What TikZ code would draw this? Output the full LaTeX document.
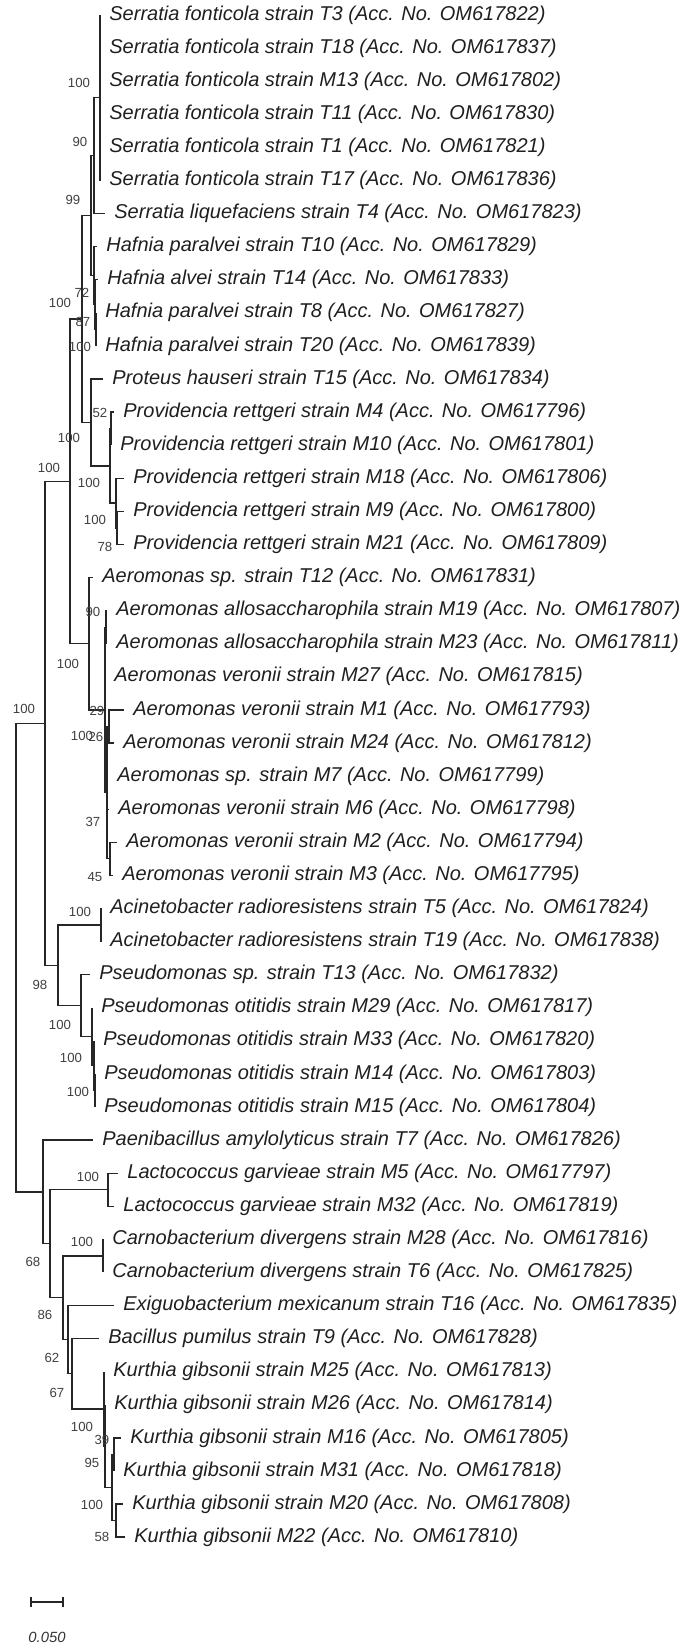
\documentclass[tikz,border=0pt]{standalone}
\usepackage{fontspec}
\setmainfont{Liberation Sans}
\usepackage{tikz}

\tikzset{
  branch/.style={line width=0.65pt, black!85},
  taxon/.style={anchor=west, inner sep=0pt, xshift=4.5pt, text=black!88,
    font=\itshape\fontsize{10}{12}\selectfont},
  boot/.style={inner sep=0pt, text=black!75, font=\fontsize{6.6}{8}\selectfont},
  scaletxt/.style={inner sep=0pt, text=black!80, font=\itshape\fontsize{7.4}{9}\selectfont},
}

\begin{document}
\begin{tikzpicture}[x=0.5pt, y=-0.5pt]
  \useasboundingbox (0,0) rectangle (690,1645);
  % tips
  \coordinate (T3) at (100,15.0);
  \coordinate (T18) at (100,48.1);
  \coordinate (M13) at (100,81.2);
  \coordinate (T11) at (100,114.3);
  \coordinate (T1) at (100,147.4);
  \coordinate (T17) at (100,180.5);
  \coordinate (T4) at (105,213.5);
  \coordinate (T10) at (97,246.6);
  \coordinate (T14) at (98,279.7);
  \coordinate (T8) at (96,312.8);
  \coordinate (T20) at (96,345.9);
  \coordinate (T15) at (103,379.0);
  \coordinate (M4) at (114,412.1);
  \coordinate (M10) at (111,445.2);
  \coordinate (M18) at (124,478.3);
  \coordinate (M9) at (124,511.4);
  \coordinate (M21) at (124,544.4);
  \coordinate (T12) at (93,577.5);
  \coordinate (M19) at (107,610.6);
  \coordinate (M23) at (107,643.7);
  \coordinate (M27) at (105,676.8);
  \coordinate (M1) at (124,709.9);
  \coordinate (M24) at (114,743.0);
  \coordinate (M7) at (108,776.1);
  \coordinate (M6) at (109,809.2);
  \coordinate (M2) at (117,842.3);
  \coordinate (M3) at (113,875.3);
  \coordinate (T5) at (101,908.4);
  \coordinate (T19) at (101,941.5);
  \coordinate (T13) at (90,974.6);
  \coordinate (M29) at (92,1007.7);
  \coordinate (M33) at (94,1040.8);
  \coordinate (M14) at (95,1073.9);
  \coordinate (M15) at (95,1107.0);
  \coordinate (T7) at (93,1140.1);
  \coordinate (M5) at (118,1173.2);
  \coordinate (M32) at (114,1206.2);
  \coordinate (M28) at (103,1239.3);
  \coordinate (T6) at (103,1272.4);
  \coordinate (T16) at (114,1305.5);
  \coordinate (T9) at (99,1338.6);
  \coordinate (M25) at (104,1371.7);
  \coordinate (M26) at (105,1404.8);
  \coordinate (M16) at (121,1437.9);
  \coordinate (M31) at (114,1471.0);
  \coordinate (M20) at (123,1504.1);
  \coordinate (M22) at (125,1537.1);

  % taxon names
  \node[taxon] (T3txt) at (T3) {Serratia fonticola strain T3 (Acc. No. OM617822)};
  \node[taxon] (T18txt) at (T18) {Serratia fonticola strain T18 (Acc. No. OM617837)};
  \node[taxon] (M13txt) at (M13) {Serratia fonticola strain M13 (Acc. No. OM617802)};
  \node[taxon] (T11txt) at (T11) {Serratia fonticola strain T11 (Acc. No. OM617830)};
  \node[taxon] (T1txt) at (T1) {Serratia fonticola strain T1 (Acc. No. OM617821)};
  \node[taxon] (T17txt) at (T17) {Serratia fonticola strain T17 (Acc. No. OM617836)};
  \node[taxon] (T4txt) at (T4) {Serratia liquefaciens strain T4 (Acc. No. OM617823)};
  \node[taxon] (T10txt) at (T10) {Hafnia paralvei strain T10 (Acc. No. OM617829)};
  \node[taxon] (T14txt) at (T14) {Hafnia alvei strain T14 (Acc. No. OM617833)};
  \node[taxon] (T8txt) at (T8) {Hafnia paralvei strain T8 (Acc. No. OM617827)};
  \node[taxon] (T20txt) at (T20) {Hafnia paralvei strain T20 (Acc. No. OM617839)};
  \node[taxon] (T15txt) at (T15) {Proteus hauseri strain T15 (Acc. No. OM617834)};
  \node[taxon] (M4txt) at (M4) {Providencia rettgeri strain M4 (Acc. No. OM617796)};
  \node[taxon] (M10txt) at (M10) {Providencia rettgeri strain M10 (Acc. No. OM617801)};
  \node[taxon] (M18txt) at (M18) {Providencia rettgeri strain M18 (Acc. No. OM617806)};
  \node[taxon] (M9txt) at (M9) {Providencia rettgeri strain M9 (Acc. No. OM617800)};
  \node[taxon] (M21txt) at (M21) {Providencia rettgeri strain M21 (Acc. No. OM617809)};
  \node[taxon] (T12txt) at (T12) {Aeromonas sp. strain T12 (Acc. No. OM617831)};
  \node[taxon] (M19txt) at (M19) {Aeromonas allosaccharophila strain M19 (Acc. No. OM617807)};
  \node[taxon] (M23txt) at (M23) {Aeromonas allosaccharophila strain M23 (Acc. No. OM617811)};
  \node[taxon] (M27txt) at (M27) {Aeromonas veronii strain M27 (Acc. No. OM617815)};
  \node[taxon] (M1txt) at (M1) {Aeromonas veronii strain M1 (Acc. No. OM617793)};
  \node[taxon] (M24txt) at (M24) {Aeromonas veronii strain M24 (Acc. No. OM617812)};
  \node[taxon] (M7txt) at (M7) {Aeromonas sp. strain M7 (Acc. No. OM617799)};
  \node[taxon] (M6txt) at (M6) {Aeromonas veronii strain M6 (Acc. No. OM617798)};
  \node[taxon] (M2txt) at (M2) {Aeromonas veronii strain M2 (Acc. No. OM617794)};
  \node[taxon] (M3txt) at (M3) {Aeromonas veronii strain M3 (Acc. No. OM617795)};
  \node[taxon] (T5txt) at (T5) {Acinetobacter radioresistens strain T5 (Acc. No. OM617824)};
  \node[taxon] (T19txt) at (T19) {Acinetobacter radioresistens strain T19 (Acc. No. OM617838)};
  \node[taxon] (T13txt) at (T13) {Pseudomonas sp. strain T13 (Acc. No. OM617832)};
  \node[taxon] (M29txt) at (M29) {Pseudomonas otitidis strain M29 (Acc. No. OM617817)};
  \node[taxon] (M33txt) at (M33) {Pseudomonas otitidis strain M33 (Acc. No. OM617820)};
  \node[taxon] (M14txt) at (M14) {Pseudomonas otitidis strain M14 (Acc. No. OM617803)};
  \node[taxon] (M15txt) at (M15) {Pseudomonas otitidis strain M15 (Acc. No. OM617804)};
  \node[taxon] (T7txt) at (T7) {Paenibacillus amylolyticus strain T7 (Acc. No. OM617826)};
  \node[taxon] (M5txt) at (M5) {Lactococcus garvieae strain M5 (Acc. No. OM617797)};
  \node[taxon] (M32txt) at (M32) {Lactococcus garvieae strain M32 (Acc. No. OM617819)};
  \node[taxon] (M28txt) at (M28) {Carnobacterium divergens strain M28 (Acc. No. OM617816)};
  \node[taxon] (T6txt) at (T6) {Carnobacterium divergens strain T6 (Acc. No. OM617825)};
  \node[taxon] (T16txt) at (T16) {Exiguobacterium mexicanum strain T16 (Acc. No. OM617835)};
  \node[taxon] (T9txt) at (T9) {Bacillus pumilus strain T9 (Acc. No. OM617828)};
  \node[taxon] (M25txt) at (M25) {Kurthia gibsonii strain M25 (Acc. No. OM617813)};
  \node[taxon] (M26txt) at (M26) {Kurthia gibsonii strain M26 (Acc. No. OM617814)};
  \node[taxon] (M16txt) at (M16) {Kurthia gibsonii strain M16 (Acc. No. OM617805)};
  \node[taxon] (M31txt) at (M31) {Kurthia gibsonii strain M31 (Acc. No. OM617818)};
  \node[taxon] (M20txt) at (M20) {Kurthia gibsonii strain M20 (Acc. No. OM617808)};
  \node[taxon] (M22txt) at (M22) {Kurthia gibsonii M22 (Acc. No. OM617810)};

  % internal nodes
  \coordinate (root) at (16,957.7);
  \coordinate (gneg) at (45,723.4);
  \coordinate (entaer) at (70,481.4);
  \coordinate (entero) at (82,319.0);
  \coordinate (serhaf) at (91,215.6);
  \coordinate (serr) at (94,155.6);
  \coordinate (sfont) at (100,97.8);
  \coordinate (hafA) at (94,275.6);
  \coordinate (hafB) at (95,304.5);
  \coordinate (hafC) at (96,329.4);
  \coordinate (morg) at (91,422.5);
  \coordinate (prov) at (110,465.9);
  \coordinate (provA) at (111,428.7);
  \coordinate (provB) at (116,503.1);
  \coordinate (provC) at (117,527.9);
  \coordinate (aero) at (89,643.7);
  \coordinate (aeroA) at (105,709.9);
  \coordinate (aeroB) at (106,627.2);
  \coordinate (aeroC) at (107,792.6);
  \coordinate (aeroD) at (109,726.5);
  \coordinate (aeroE) at (110,858.8);
  \coordinate (acipse) at (58,965.3);
  \coordinate (acin) at (101,925.0);
  \coordinate (pse) at (81,1005.7);
  \coordinate (pseA) at (92,1036.7);
  \coordinate (pseB) at (94,1065.6);
  \coordinate (pseC) at (95,1090.5);
  \coordinate (firm) at (43,1192.0);
  \coordinate (firmA) at (50,1243.8);
  \coordinate (lact) at (108,1189.7);
  \coordinate (firmB) at (63,1297.8);
  \coordinate (carn) at (103,1255.9);
  \coordinate (firmC) at (68,1339.7);
  \coordinate (firmD) at (72,1373.8);
  \coordinate (kur) at (104,1409.0);
  \coordinate (kurA) at (105,1446.2);
  \coordinate (kurB) at (112,1487.6);
  \coordinate (kurC) at (114,1454.5);
  \coordinate (kurD) at (116,1520.6);

  % branches
  \draw[branch] (root) |- (gneg) (root) |- (firm);
  \draw[branch] (gneg) |- (entaer) (gneg) |- (acipse);
  \draw[branch] (entaer) |- (entero) (entaer) |- (aero);
  \draw[branch] (entero) |- (serhaf) (entero) |- (morg);
  \draw[branch] (serhaf) |- (serr) (serhaf) |- (hafA);
  \draw[branch] (serr) |- (sfont) (serr) |- (T4);
  \draw[branch] (sfont) |- (T3) (sfont) |- (T18) (sfont) |- (M13)
    (sfont) |- (T11) (sfont) |- (T1) (sfont) |- (T17);
  \draw[branch] (hafA) |- (T10) (hafA) |- (hafB);
  \draw[branch] (hafB) |- (T14) (hafB) |- (hafC);
  \draw[branch] (hafC) |- (T8) (hafC) |- (T20);
  \draw[branch] (morg) |- (T15) (morg) |- (prov);
  \draw[branch] (prov) |- (provA) (prov) |- (provB);
  \draw[branch] (provA) |- (M4) (provA) |- (M10);
  \draw[branch] (provB) |- (M18) (provB) |- (provC);
  \draw[branch] (provC) |- (M9) (provC) |- (M21);
  \draw[branch] (aero) |- (T12) (aero) |- (aeroA);
  \draw[branch] (aeroA) |- (aeroB) (aeroA) |- (M27) (aeroA) |- (aeroC);
  \draw[branch] (aeroB) |- (M19) (aeroB) |- (M23);
  \draw[branch] (aeroC) |- (aeroD) (aeroC) |- (M7) (aeroC) |- (M6) (aeroC) |- (aeroE);
  \draw[branch] (aeroD) |- (M1) (aeroD) |- (M24);
  \draw[branch] (aeroE) |- (M2) (aeroE) |- (M3);
  \draw[branch] (acipse) |- (acin) (acipse) |- (pse);
  \draw[branch] (acin) |- (T5) (acin) |- (T19);
  \draw[branch] (pse) |- (T13) (pse) |- (pseA);
  \draw[branch] (pseA) |- (M29) (pseA) |- (pseB);
  \draw[branch] (pseB) |- (M33) (pseB) |- (pseC);
  \draw[branch] (pseC) |- (M14) (pseC) |- (M15);
  \draw[branch] (firm) |- (T7) (firm) |- (firmA);
  \draw[branch] (firmA) |- (lact) (firmA) |- (firmB);
  \draw[branch] (lact) |- (M5) (lact) |- (M32);
  \draw[branch] (firmB) |- (carn) (firmB) |- (firmC);
  \draw[branch] (carn) |- (M28) (carn) |- (T6);
  \draw[branch] (firmC) |- (T16) (firmC) |- (firmD);
  \draw[branch] (firmD) |- (T9) (firmD) |- (kur);
  \draw[branch] (kur) |- (M25) (kur) |- (kurA);
  \draw[branch] (kurA) |- (M26) (kurA) |- (kurB);
  \draw[branch] (kurB) |- (kurC) (kurB) |- (kurD);
  \draw[branch] (kurC) |- (M16) (kurC) |- (M31);
  \draw[branch] (kurD) |- (M20) (kurD) |- (M22);

  % bootstrap values
  \node[boot] (bs01) at (79,83) {100};
  \node[boot] (bs02) at (80,142) {90};
  \node[boot] (bs03) at (73,200) {99};
  \node[boot] (bs04) at (82,293) {72};
  \node[boot] (bs05) at (60,303) {100};
  \node[boot] (bs06) at (83,322) {87};
  \node[boot] (bs07) at (80,347) {100};
  \node[boot] (bs08) at (100,413) {52};
  \node[boot] (bs09) at (69,438) {100};
  \node[boot] (bs10) at (49,468) {100};
  \node[boot] (bs11) at (89,483) {100};
  \node[boot] (bs12) at (95,520) {100};
  \node[boot] (bs13) at (105,547) {78};
  \node[boot] (bs14) at (93,612) {90};
  \node[boot] (bs15) at (68,664) {100};
  \node[boot] (bs16) at (24,709) {100};
  \node[boot] (bs17) at (97,711) {29};
  \node[boot] (bs18) at (82,736) {100};
  \node[boot] (bs19) at (96,737) {26};
  \node[boot] (bs20) at (93,822) {37};
  \node[boot] (bs21) at (95,877) {45};
  \node[boot] (bs22) at (80,912) {100};
  \node[boot] (bs23) at (40,985) {98};
  \node[boot] (bs24) at (60,1025) {100};
  \node[boot] (bs25) at (71,1058) {100};
  \node[boot] (bs26) at (78,1092) {100};
  \node[boot] (bs27) at (88,1177) {100};
  \node[boot] (bs28) at (82,1242) {100};
  \node[boot] (bs29) at (33,1262) {68};
  \node[boot] (bs30) at (45,1315) {86};
  \node[boot] (bs31) at (52,1358) {62};
  \node[boot] (bs32) at (57,1393) {67};
  \node[boot] (bs33) at (82,1427) {100};
  \node[boot] (bs34) at (102,1440) {39};
  \node[boot] (bs35) at (92,1463) {95};
  \node[boot] (bs36) at (92,1505) {100};
  \node[boot] (bs37) at (102,1537) {58};

  % scale bar
  \coordinate (sbL) at (31,1602);
  \coordinate (sbR) at (63,1602);
  \draw[branch] (sbL) -- (sbR) (sbL) ++(0,-5) -- ++(0,10) (sbR) ++(0,-5) -- ++(0,10);
  \node[scaletxt] (sbtxt) at (47,1637) {0.050};
\end{tikzpicture}
\end{document}
